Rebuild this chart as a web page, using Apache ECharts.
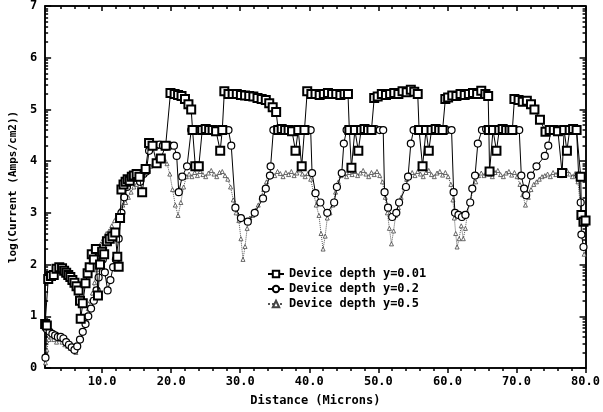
<!DOCTYPE html>
<html><head><meta charset="utf-8">
<script src="https://cdn.jsdelivr.net/npm/echarts@6/dist/echarts.min.js"></script>
<style>html,body{margin:0;padding:0;background:#fff}#c{width:603px;height:412px}</style>
</head><body><div id="c"></div>
<script>
var seriesNames = ['Device depth y=0.01', 'Device depth y=0.2', 'Device depth y=0.5'];
var xTickValues = [10, 20, 30, 40, 50, 60, 70, 80];
var yTickValues = [0, 1, 2, 3, 4, 5, 6, 7];

var squares = [
[1.75,0.85],[2.0,0.82],[2.2,1.72],[2.6,1.78],[3.0,1.8],[3.4,1.92],[3.8,1.95],[4.2,1.93],[4.5,1.88],[4.8,1.84],[5.1,1.8],[5.4,1.76],[5.7,1.7],[6.0,1.65],[6.3,1.58],[6.6,1.5],[6.8,1.3],[6.9,0.95],[7.2,1.25],[7.6,1.64],[7.9,1.83],[8.2,1.95],[8.5,2.2],[8.8,2.1],[9.1,2.3],[9.4,1.4],[9.7,2.0],[10.0,2.25],[10.3,2.2],[10.7,2.45],[11.1,2.5],[11.5,2.55],[11.9,2.62],[12.2,2.15],[12.4,1.96],[12.6,2.9],[12.8,3.45],[13.1,3.55],[13.4,3.6],[13.7,3.65],[14.0,3.62],[14.3,3.7],[14.6,3.72],[15.0,3.75],[15.4,3.7],[15.8,3.4],[16.3,3.85],[16.8,4.35],[17.3,4.3],[17.9,3.96],[18.5,4.05],[19.2,4.3],
[19.9,5.32],[20.5,5.3],[21.0,5.28],[21.5,5.26],[22.0,5.2],[22.5,5.1],[22.9,5.0],[23.1,4.6],[23.5,3.9],[24.0,3.9],[24.5,4.6],[25.0,4.62],[25.5,4.6],[26.0,4.6],[26.5,4.58],[27.1,4.2],[27.4,4.6],
[27.7,5.35],[28.3,5.3],[28.9,5.3],[29.5,5.3],[30.1,5.28],[30.7,5.27],[31.3,5.26],[31.9,5.25],[32.5,5.22],[33.1,5.2],[33.7,5.18],[34.2,5.12],[34.7,5.04],[35.2,4.95],[35.5,4.6],[36.0,4.62],[36.5,4.6],[37.0,4.6],[37.5,4.58],[38.0,4.2],[38.4,4.6],[38.9,3.9],[39.3,4.6],
[39.7,5.35],[40.3,5.3],[40.9,5.3],[41.5,5.28],[42.1,5.3],[42.7,5.32],[43.3,5.3],[43.9,5.3],[44.5,5.28],[45.1,5.3],[45.6,5.3],[45.8,4.6],[46.1,3.87],[46.6,4.6],[47.1,4.2],[47.5,4.6],[48.0,4.62],[48.5,4.6],[49.0,4.6],
[49.4,5.22],[49.9,5.25],[50.5,5.3],[51.1,5.28],[51.7,5.3],[52.3,5.32],[52.9,5.3],[53.5,5.35],[54.1,5.33],[54.7,5.38],[55.2,5.34],[55.7,5.3],[55.9,4.6],[56.4,3.9],[56.9,4.6],[57.3,4.2],[57.7,4.6],[58.3,4.62],[58.8,4.6],[59.3,4.6],
[59.7,5.2],[60.1,5.23],[60.7,5.27],[61.3,5.26],[61.9,5.3],[62.5,5.28],[63.1,5.3],[63.7,5.32],[64.3,5.3],[64.9,5.36],[65.5,5.3],[65.9,5.26],[66.0,4.6],[66.1,3.8],[66.6,4.6],[67.1,4.2],[67.5,4.6],[68.0,4.62],[68.5,4.6],[69.0,4.6],[69.4,4.6],
[69.7,5.2],[70.3,5.18],[70.9,5.15],[71.5,5.17],[72.1,5.1],[72.6,5.0],[73.4,4.8],[74.2,4.57],[74.8,4.6],[75.4,4.6],[76.0,4.58],[76.6,3.77],[76.9,4.6],[77.3,4.2],[77.7,4.6],[78.2,4.62],[78.7,4.6],[79.3,3.7],[79.4,2.96],[79.7,2.83],[80.0,2.85]
];

var circles = [
[1.8,0.2],[2.0,0.75],[2.4,0.7],[2.8,0.66],[3.2,0.63],[3.6,0.6],[4.0,0.6],[4.4,0.57],[4.8,0.5],[5.2,0.45],[5.6,0.4],[6.0,0.35],[6.4,0.42],[6.8,0.55],[7.2,0.7],[7.6,0.85],[8.0,1.0],[8.4,1.15],[8.8,1.3],[9.2,1.5],[9.5,1.75],[9.8,2.0],[10.1,2.1],[10.4,1.85],[10.8,1.5],[11.2,1.7],[11.6,1.95],[12.0,2.1],[12.4,2.5],[12.8,3.0],[13.2,3.3],[13.6,3.5],[14.0,3.6],[14.5,3.7],[15.0,3.75],[15.5,3.6],[16.0,3.75],[16.4,3.8],[16.8,4.2],[17.3,4.3],[17.8,4.3],[18.3,4.32],[18.8,4.3],[19.3,4.28],[19.8,4.3],[20.4,4.3],[20.8,4.1],[21.1,3.4],[21.6,3.7],[22.3,3.9],
[22.9,4.6],[23.5,4.62],[24.1,4.6],[24.7,4.6],[25.3,4.62],[25.9,4.6],[26.5,4.6],[27.1,4.62],[27.7,4.6],[28.3,4.6],[28.7,4.3],[29.3,3.1],[30.1,2.9],[31.1,2.83],[32.1,3.0],[33.3,3.28],[33.7,3.47],[34.3,3.72],[34.4,3.9],
[34.8,4.6],[35.4,4.62],[36.0,4.6],[36.6,4.6],[37.2,4.62],[37.8,4.6],[38.4,4.6],[39.0,4.62],[39.6,4.6],[40.2,4.6],[40.4,3.77],[40.9,3.38],[41.6,3.2],[42.6,3.0],[43.6,3.2],[44.0,3.5],[44.7,3.77],[45.0,4.34],
[45.4,4.6],[46.0,4.62],[46.6,4.6],[47.2,4.6],[47.8,4.62],[48.4,4.6],[49.0,4.6],[49.6,4.62],[50.2,4.6],[50.7,4.6],[50.9,3.4],[51.4,3.1],[52.0,2.92],[52.6,3.0],[53.0,3.2],[54.0,3.5],[54.3,3.7],[54.7,4.34],
[55.1,4.6],[55.7,4.62],[56.3,4.6],[56.9,4.6],[57.5,4.62],[58.1,4.6],[58.7,4.6],[59.3,4.62],[59.9,4.6],[60.6,4.6],[60.9,3.4],[61.1,3.0],[61.6,2.96],[62.1,2.92],[62.6,2.96],[63.3,3.2],[63.6,3.47],[64.0,3.72],[64.4,4.34],
[65.0,4.6],[65.6,4.62],[66.2,4.6],[66.8,4.6],[67.4,4.62],[68.0,4.6],[68.6,4.6],[69.2,4.62],[69.8,4.6],[70.4,4.6],[70.7,3.72],[71.1,3.47],[71.4,3.34],[72.1,3.72],[72.9,3.9],[74.1,4.1],[74.6,4.3],
[75.0,4.6],[75.6,4.62],[76.2,4.6],[76.8,4.6],[77.4,4.62],[78.0,4.6],[78.7,4.6],[79.0,3.72],[79.3,3.2],[79.4,2.58],[79.7,2.34]
];

var triangles = [
[1.8,0.1],[2.0,0.35],[2.3,0.55],[2.6,0.6],[3.0,0.55],[3.4,0.5],[3.8,0.55],[4.2,0.5],[4.6,0.45],[5.0,0.42],[5.4,0.38],[5.8,0.35],[6.2,0.3],[6.5,0.4],[6.8,0.55],[7.1,0.7],[7.4,0.85],[7.7,1.0],[8.0,1.15],[8.3,1.3],[8.6,1.45],[8.9,1.65],[9.2,1.9],[9.5,2.15],[9.8,2.4],[10.2,2.5],[10.6,2.6],[11.0,2.65],[11.4,2.75],[11.8,2.85],[12.2,2.95],[12.6,3.05],[13.0,3.15],[13.4,3.2],[13.8,3.3],[14.2,3.4],[14.6,3.5],[15.0,3.55],[15.4,3.6],[15.8,3.7],[16.2,3.75],[16.6,3.85],[17.0,3.9],[17.4,3.95],[17.8,4.0],[18.2,4.05],[18.6,4.1],[19.0,4.05],[19.4,3.95],[19.8,3.75],[20.2,3.45],[20.6,3.15],[21.0,2.95],[21.4,3.2],[21.8,3.5],[22.2,3.7],
[22.6,3.75],[23.0,3.7],[23.4,3.78],[23.8,3.72],[24.2,3.8],[24.6,3.74],[25.0,3.7],[25.4,3.77],[25.8,3.82],[26.2,3.75],[26.6,3.7],[27.0,3.78],[27.4,3.8],[27.8,3.72],[28.2,3.65],[28.6,3.5],[29.0,3.25],[29.4,3.0],[29.8,2.85],[30.1,2.5],[30.4,2.1],[30.7,2.35],[31.0,2.7],[31.4,2.9],[31.8,2.95],[32.2,3.05],[32.6,3.15],[33.0,3.3],[33.4,3.45],[33.8,3.6],[34.2,3.7],
[34.6,3.75],[35.0,3.72],[35.4,3.8],[35.8,3.76],[36.2,3.7],[36.6,3.78],[37.0,3.74],[37.4,3.8],[37.8,3.72],[38.2,3.77],[38.6,3.83],[39.0,3.75],[39.4,3.7],[39.8,3.76],[40.2,3.65],[40.6,3.4],[41.0,3.15],[41.4,2.95],[41.7,2.6],[42.0,2.3],[42.3,2.55],[42.6,2.9],[43.0,3.0],[43.4,3.15],[43.8,3.4],[44.2,3.6],
[44.6,3.72],[45.0,3.76],[45.4,3.7],[45.8,3.78],[46.2,3.74],[46.6,3.8],[47.0,3.72],[47.4,3.77],[47.8,3.82],[48.2,3.75],[48.6,3.7],[49.0,3.78],[49.4,3.74],[49.8,3.8],[50.2,3.72],[50.6,3.6],[51.0,3.3],[51.3,3.0],[51.6,2.7],[51.9,2.4],[52.2,2.65],[52.5,2.95],[52.9,3.1],[53.3,3.3],[53.7,3.5],[54.1,3.65],
[54.5,3.74],[54.9,3.78],[55.3,3.72],[55.7,3.8],[56.1,3.75],[56.5,3.7],[56.9,3.78],[57.3,3.82],[57.7,3.74],[58.1,3.7],[58.5,3.77],[58.9,3.8],[59.3,3.73],[59.7,3.78],[60.1,3.7],[60.5,3.55],[60.8,3.25],[61.0,2.9],[61.2,2.6],[61.4,2.34],[61.7,2.5],[62.0,2.75],[62.3,2.5],[62.6,2.7],[62.9,3.0],[63.3,3.2],[63.7,3.45],[64.1,3.6],
[64.5,3.72],[64.9,3.77],[65.3,3.72],[65.7,3.8],[66.1,3.75],[66.5,3.7],[66.9,3.78],[67.3,3.82],[67.7,3.74],[68.1,3.7],[68.5,3.77],[68.9,3.8],[69.3,3.73],[69.7,3.78],[70.1,3.7],[70.5,3.55],[70.9,3.35],[71.3,3.15],[71.7,3.3],[72.1,3.45],[72.5,3.55],[72.9,3.6],[73.3,3.65],[73.7,3.7],
[74.1,3.72],[74.5,3.75],[74.9,3.7],[75.3,3.78],[75.7,3.74],[76.1,3.8],[76.5,3.72],[76.9,3.77],[77.3,3.82],[77.7,3.75],[78.1,3.7],[78.5,3.76],[78.9,3.6],[79.2,3.2],[79.5,2.6],[79.8,2.2]
];

// tick positions (decoration)
var xMinorTicks = [];
for (var t = 4; t < 80; t += 2) { if (t % 10 !== 0) xMinorTicks.push(t); }
var yMinorTicks = [];
for (var d = 0; d < 7; d++) { for (var k = 2; k <= 9; k++) yMinorTicks.push(d + Math.log10(k)); }

var FONT = 'DejaVu Sans Mono';
var X_MIN = 1.75, X_MAX = 80;

function xAx(pos, ticks, len, inside, labels) {
  return {
    type: 'value', position: pos, min: X_MIN, max: X_MAX,
    axisLine: { show: true, onZero: false, lineStyle: { color: '#000', width: 1.5 } },
    axisTick: { show: true, inside: inside, length: len, customValues: ticks, lineStyle: { color: '#000', width: 1.5 } },
    axisLabel: labels ? { show: true, customValues: xTickValues, formatter: function (v) { return v.toFixed(1); },
      fontFamily: FONT, fontSize: 12, fontWeight: 'bold', color: '#000', margin: 8 } : { show: false },
    splitLine: { show: false }
  };
}
function yAx(pos, ticks, len, labels) {
  return {
    type: 'value', position: pos, min: 0, max: 7,
    axisLine: { show: true, onZero: false, lineStyle: { color: '#000', width: 1.5 } },
    axisTick: { show: true, inside: true, length: len, customValues: ticks, lineStyle: { color: '#000', width: 1.5 } },
    axisLabel: labels ? { show: true, customValues: yTickValues, fontFamily: FONT, fontSize: 12, fontWeight: 'bold', color: '#000', margin: 8 } : { show: false },
    splitLine: { show: false }
  };
}

var xa0 = xAx('bottom', xTickValues, 5, false, true);
xa0.name = 'Distance (Microns)';
xa0.nameLocation = 'middle';
xa0.nameGap = 27;
xa0.nameTextStyle = { fontFamily: FONT, fontSize: 12, fontWeight: 'bold', color: '#000' };
var ya0 = yAx('left', yTickValues, 6, true);
ya0.name = 'log(Current (Amps/cm2))';
ya0.nameLocation = 'middle';
ya0.nameGap = 23;
ya0.nameTextStyle = { fontFamily: FONT, fontSize: 11, fontWeight: 'bold', color: '#000' };

var chart = echarts.init(document.getElementById('c'), null, { renderer: 'canvas' });
chart.setOption({
  animation: false,
  backgroundColor: '#fff',
  grid: { left: 44, right: 10, top: 6, bottom: 35, containLabel: false },
  xAxis: [xa0, xAx('bottom', xMinorTicks, 3, false, false), xAx('top', xTickValues, 5, true, false), xAx('top', xMinorTicks, 3, true, false)],
  yAxis: [ya0, yAx('left', yMinorTicks, 3, false), yAx('right', yTickValues, 6, false), yAx('right', yMinorTicks, 3, false)],
  legend: {
    orient: 'vertical', left: 262, top: 263, itemGap: 3, itemWidth: 16, itemHeight: 8,
    textStyle: { fontFamily: FONT, fontSize: 12, fontWeight: 'bold', color: '#000' },
    data: seriesNames
  },
  series: [
    { name: seriesNames[2], type: 'line', data: triangles, xAxisIndex: 0, yAxisIndex: 0, z: 2,
      symbol: 'triangle', symbolSize: 4, showAllSymbol: true,
      lineStyle: { color: '#555', width: 1, type: 'dotted' },
      itemStyle: { color: '#fff', borderColor: '#444', borderWidth: 0.8 } },
    { name: seriesNames[1], type: 'line', data: circles, xAxisIndex: 0, yAxisIndex: 0, z: 3,
      symbol: 'circle', symbolSize: 7, showAllSymbol: true,
      lineStyle: { color: '#000', width: 1 },
      itemStyle: { color: '#fff', borderColor: '#000', borderWidth: 1.2 } },
    { name: seriesNames[0], type: 'line', data: squares, xAxisIndex: 0, yAxisIndex: 0, z: 4,
      symbol: 'rect', symbolSize: 8, showAllSymbol: true,
      lineStyle: { color: '#000', width: 1 },
      itemStyle: { color: '#fff', borderColor: '#000', borderWidth: 2 } }
  ]
});
</script>
</body></html>
